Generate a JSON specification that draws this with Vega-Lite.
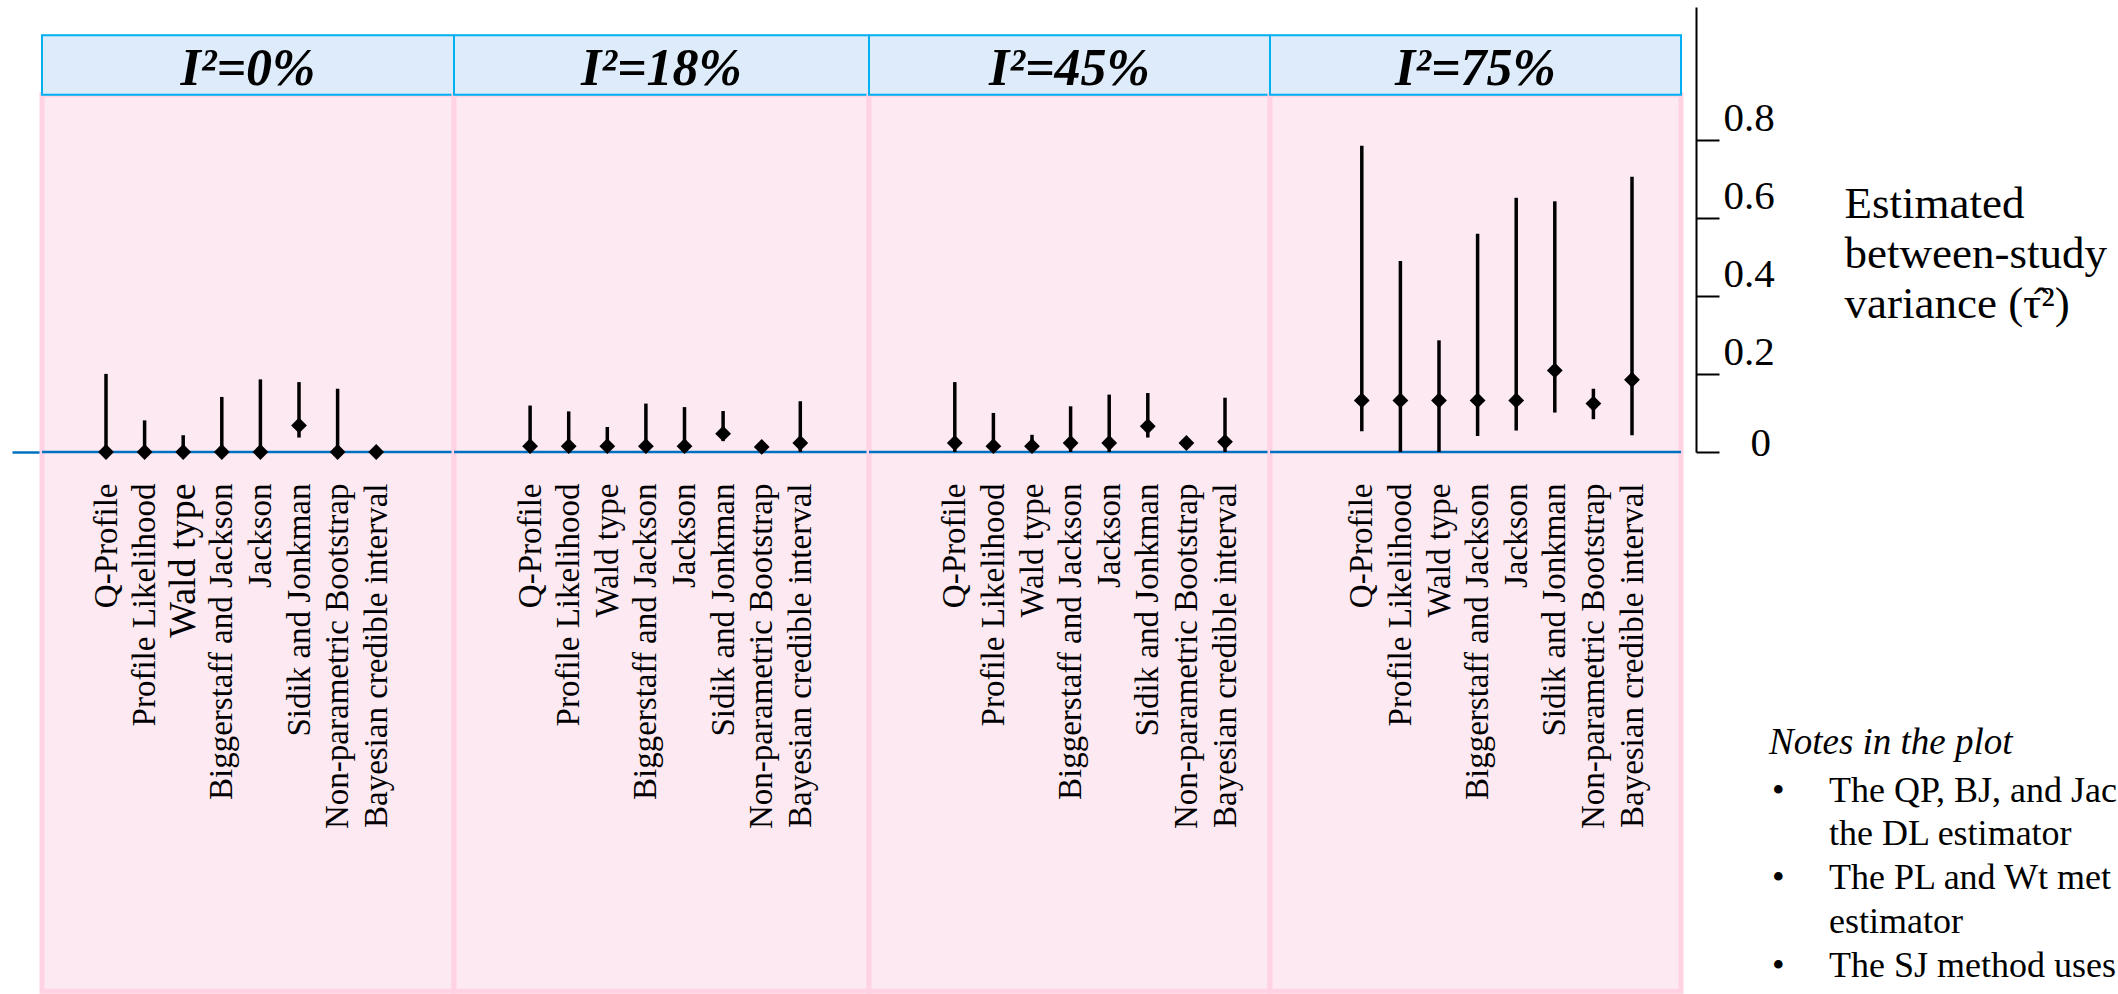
{
  "$schema": "https://vega.github.io/schema/vega-lite/v6.json",
  "usermeta": {"embedOptions": {"actions": false}},
  "padding": {"left": 10, "top": 7, "right": 0, "bottom": 0},
  "background": "white",
  "spacing": 0,
  "bounds": "flush",
  "config": {"view": {"stroke": null}, "axis": {"grid": false}},
  "data": {"values": [
    {"panel": "I²=0%", "method": "Q-Profile", "est": 0, "lo": 0, "hi": 0.2},
    {"panel": "I²=0%", "method": "Profile Likelihood", "est": 0, "lo": 0, "hi": 0.081},
    {"panel": "I²=0%", "method": "Wald type", "est": 0, "lo": 0, "hi": 0.043},
    {"panel": "I²=0%", "method": "Biggerstaff and Jackson", "est": 0, "lo": 0, "hi": 0.141},
    {"panel": "I²=0%", "method": "Jackson", "est": 0, "lo": 0, "hi": 0.186},
    {"panel": "I²=0%", "method": "Sidik and Jonkman", "est": 0.068, "lo": 0.037, "hi": 0.179},
    {"panel": "I²=0%", "method": "Non-parametric Bootstrap", "est": 0, "lo": 0, "hi": 0.162},
    {"panel": "I²=0%", "method": "Bayesian credible interval", "est": 0, "lo": 0, "hi": 0},
    {"panel": "I²=18%", "method": "Q-Profile", "est": 0.015, "lo": 0, "hi": 0.119},
    {"panel": "I²=18%", "method": "Profile Likelihood", "est": 0.015, "lo": 0, "hi": 0.104},
    {"panel": "I²=18%", "method": "Wald type", "est": 0.015, "lo": 0, "hi": 0.064},
    {"panel": "I²=18%", "method": "Biggerstaff and Jackson", "est": 0.015, "lo": 0, "hi": 0.124},
    {"panel": "I²=18%", "method": "Jackson", "est": 0.015, "lo": 0, "hi": 0.115},
    {"panel": "I²=18%", "method": "Sidik and Jonkman", "est": 0.047, "lo": 0.028, "hi": 0.105},
    {"panel": "I²=18%", "method": "Non-parametric Bootstrap", "est": 0.013, "lo": 0.013, "hi": 0.013},
    {"panel": "I²=18%", "method": "Bayesian credible interval", "est": 0.023, "lo": 0, "hi": 0.13},
    {"panel": "I²=45%", "method": "Q-Profile", "est": 0.023, "lo": 0, "hi": 0.179},
    {"panel": "I²=45%", "method": "Profile Likelihood", "est": 0.015, "lo": 0, "hi": 0.1},
    {"panel": "I²=45%", "method": "Wald type", "est": 0.015, "lo": 0, "hi": 0.044},
    {"panel": "I²=45%", "method": "Biggerstaff and Jackson", "est": 0.023, "lo": 0, "hi": 0.117},
    {"panel": "I²=45%", "method": "Jackson", "est": 0.023, "lo": 0, "hi": 0.147},
    {"panel": "I²=45%", "method": "Sidik and Jonkman", "est": 0.066, "lo": 0.037, "hi": 0.151},
    {"panel": "I²=45%", "method": "Non-parametric Bootstrap", "est": 0.023, "lo": 0.023, "hi": 0.023},
    {"panel": "I²=45%", "method": "Bayesian credible interval", "est": 0.026, "lo": 0, "hi": 0.139},
    {"panel": "I²=75%", "method": "Q-Profile", "est": 0.132, "lo": 0.053, "hi": 0.784},
    {"panel": "I²=75%", "method": "Profile Likelihood", "est": 0.132, "lo": 0, "hi": 0.489},
    {"panel": "I²=75%", "method": "Wald type", "est": 0.132, "lo": 0, "hi": 0.286},
    {"panel": "I²=75%", "method": "Biggerstaff and Jackson", "est": 0.132, "lo": 0.041, "hi": 0.559},
    {"panel": "I²=75%", "method": "Jackson", "est": 0.132, "lo": 0.055, "hi": 0.651},
    {"panel": "I²=75%", "method": "Sidik and Jonkman", "est": 0.209, "lo": 0.101, "hi": 0.642},
    {"panel": "I²=75%", "method": "Non-parametric Bootstrap", "est": 0.124, "lo": 0.084, "hi": 0.162},
    {"panel": "I²=75%", "method": "Bayesian credible interval", "est": 0.185, "lo": 0.043, "hi": 0.705}
  ]},
  "hconcat": [
    {
      "width": 412, "height": 445,
      "transform": [{"filter": "datum.panel === 'I²=0%'"}],
      "layer": [
        {"transform": [{"filter": "datum.method === 'Q-Profile'"}],
         "mark": {"type": "rect", "fill": "#FDE9F2", "stroke": "#FFD3E4", "strokeWidth": 5},
         "encoding": {"y": {"datum": 0.915, "type": "quantitative", "scale": {"domain": [0, 1.1396], "nice": false, "zero": false},
           "axis": {"orient": "left", "values": [0], "domain": false, "labels": false, "grid": false, "ticks": true, "tickSize": 30, "tickColor": "#0070C0", "tickWidth": 2.5, "title": null}},
           "y2": {"datum": -1.381}}},
        {"transform": [{"filter": "datum.method === 'Q-Profile'"}],
         "mark": {"type": "rect", "fill": "#DEEBFA", "stroke": "#00B0F0", "strokeWidth": 2},
         "encoding": {"y": {"datum": 1.0671, "type": "quantitative"}, "y2": {"datum": 0.915}}},
        {"transform": [{"filter": "datum.method === 'Q-Profile'"}],
         "mark": {"type": "text", "font": "Liberation Serif", "fontSize": 52, "fontStyle": "italic", "fontWeight": "bold", "baseline": "alphabetic", "align": "center", "color": "black"},
         "encoding": {"y": {"datum": 0.94, "type": "quantitative"}, "text": {"field": "panel"}}},
        {"transform": [{"filter": "datum.method === 'Q-Profile'"}],
         "mark": {"type": "rule", "color": "#0070C0", "strokeWidth": 2.5},
         "encoding": {"y": {"datum": 0, "type": "quantitative"}}},
        {"mark": {"type": "rule", "color": "black", "strokeWidth": 3.5},
         "encoding": {
           "x": {"field": "method", "type": "nominal", "sort": null,
             "scale": {"type": "point", "domain": ["Q-Profile", "Profile Likelihood", "Wald type", "Biggerstaff and Jackson", "Jackson", "Sidik and Jonkman", "Non-parametric Bootstrap", "Bayesian credible interval"], "padding": 0, "range": [64, 334.2]},
             "axis": {"orient": "bottom", "title": null, "domain": false, "ticks": false, "tickSize": 0, "labelAngle": 270, "labelAlign": "right", "labelBaseline": "middle", "labelPadding": 31, "labelFont": "Liberation Serif", "labelFontSize": {"condition": {"test": "datum.value === 'Wald type'", "value": 38}, "value": 33}, "labelColor": "black", "labelLimit": 0, "labelOverlap": false, "labelBound": false, "labelFlush": false, "zindex": 1}},
           "y": {"field": "lo", "type": "quantitative"},
           "y2": {"field": "hi"}}},
        {"mark": {"type": "point", "shape": "diamond", "filled": true, "color": "black", "size": 250, "opacity": 1},
         "encoding": {
           "x": {"field": "method", "type": "nominal", "sort": null},
           "y": {"field": "est", "type": "quantitative"}}}
      ]
    },
    {
      "width": 415, "height": 445,
      "transform": [{"filter": "datum.panel === 'I²=18%'"}],
      "layer": [
        {"transform": [{"filter": "datum.method === 'Q-Profile'"}],
         "mark": {"type": "rect", "fill": "#FDE9F2", "stroke": "#FFD3E4", "strokeWidth": 5},
         "encoding": {"y": {"datum": 0.915, "type": "quantitative", "scale": {"domain": [0, 1.1396], "nice": false, "zero": false}, "axis": null},
           "y2": {"datum": -1.381}}},
        {"transform": [{"filter": "datum.method === 'Q-Profile'"}],
         "mark": {"type": "rect", "fill": "#DEEBFA", "stroke": "#00B0F0", "strokeWidth": 2},
         "encoding": {"y": {"datum": 1.0671, "type": "quantitative", "axis": null}, "y2": {"datum": 0.915}}},
        {"transform": [{"filter": "datum.method === 'Q-Profile'"}],
         "mark": {"type": "text", "font": "Liberation Serif", "fontSize": 52, "fontStyle": "italic", "fontWeight": "bold", "baseline": "alphabetic", "align": "center", "color": "black"},
         "encoding": {"y": {"datum": 0.94, "type": "quantitative", "axis": null}, "text": {"field": "panel"}}},
        {"transform": [{"filter": "datum.method === 'Q-Profile'"}],
         "mark": {"type": "rule", "color": "#0070C0", "strokeWidth": 2.5},
         "encoding": {"y": {"datum": 0, "type": "quantitative", "axis": null}}},
        {"mark": {"type": "rule", "color": "black", "strokeWidth": 3.5},
         "encoding": {
           "x": {"field": "method", "type": "nominal", "sort": null,
             "scale": {"type": "point", "domain": ["Q-Profile", "Profile Likelihood", "Wald type", "Biggerstaff and Jackson", "Jackson", "Sidik and Jonkman", "Non-parametric Bootstrap", "Bayesian credible interval"], "padding": 0, "range": [76.1, 346.3]},
             "axis": {"orient": "bottom", "title": null, "domain": false, "ticks": false, "tickSize": 0, "labelAngle": 270, "labelAlign": "right", "labelBaseline": "middle", "labelPadding": 31, "labelFont": "Liberation Serif", "labelFontSize": 33, "labelColor": "black", "labelLimit": 0, "labelOverlap": false, "labelBound": false, "labelFlush": false, "zindex": 1}},
           "y": {"field": "lo", "type": "quantitative", "axis": null},
           "y2": {"field": "hi"}}},
        {"mark": {"type": "point", "shape": "diamond", "filled": true, "color": "black", "size": 250, "opacity": 1},
         "encoding": {
           "x": {"field": "method", "type": "nominal", "sort": null},
           "y": {"field": "est", "type": "quantitative", "axis": null}}}
      ]
    },
    {
      "width": 401, "height": 445,
      "transform": [{"filter": "datum.panel === 'I²=45%'"}],
      "layer": [
        {"transform": [{"filter": "datum.method === 'Q-Profile'"}],
         "mark": {"type": "rect", "fill": "#FDE9F2", "stroke": "#FFD3E4", "strokeWidth": 5},
         "encoding": {"y": {"datum": 0.915, "type": "quantitative", "scale": {"domain": [0, 1.1396], "nice": false, "zero": false}, "axis": null},
           "y2": {"datum": -1.381}}},
        {"transform": [{"filter": "datum.method === 'Q-Profile'"}],
         "mark": {"type": "rect", "fill": "#DEEBFA", "stroke": "#00B0F0", "strokeWidth": 2},
         "encoding": {"y": {"datum": 1.0671, "type": "quantitative", "axis": null}, "y2": {"datum": 0.915}}},
        {"transform": [{"filter": "datum.method === 'Q-Profile'"}],
         "mark": {"type": "text", "font": "Liberation Serif", "fontSize": 52, "fontStyle": "italic", "fontWeight": "bold", "baseline": "alphabetic", "align": "center", "color": "black"},
         "encoding": {"y": {"datum": 0.94, "type": "quantitative", "axis": null}, "text": {"field": "panel"}}},
        {"transform": [{"filter": "datum.method === 'Q-Profile'"}],
         "mark": {"type": "rule", "color": "#0070C0", "strokeWidth": 2.5},
         "encoding": {"y": {"datum": 0, "type": "quantitative", "axis": null}}},
        {"mark": {"type": "rule", "color": "black", "strokeWidth": 3.5},
         "encoding": {
           "x": {"field": "method", "type": "nominal", "sort": null,
             "scale": {"type": "point", "domain": ["Q-Profile", "Profile Likelihood", "Wald type", "Biggerstaff and Jackson", "Jackson", "Sidik and Jonkman", "Non-parametric Bootstrap", "Bayesian credible interval"], "padding": 0, "range": [85.8, 356]},
             "axis": {"orient": "bottom", "title": null, "domain": false, "ticks": false, "tickSize": 0, "labelAngle": 270, "labelAlign": "right", "labelBaseline": "middle", "labelPadding": 31, "labelFont": "Liberation Serif", "labelFontSize": 33, "labelColor": "black", "labelLimit": 0, "labelOverlap": false, "labelBound": false, "labelFlush": false, "zindex": 1}},
           "y": {"field": "lo", "type": "quantitative", "axis": null},
           "y2": {"field": "hi"}}},
        {"mark": {"type": "point", "shape": "diamond", "filled": true, "color": "black", "size": 250, "opacity": 1},
         "encoding": {
           "x": {"field": "method", "type": "nominal", "sort": null},
           "y": {"field": "est", "type": "quantitative", "axis": null}}}
      ]
    },
    {
      "width": 411, "height": 445,
      "transform": [{"filter": "datum.panel === 'I²=75%'"}],
      "layer": [
        {"transform": [{"filter": "datum.method === 'Q-Profile'"}],
         "mark": {"type": "rect", "fill": "#FDE9F2", "stroke": "#FFD3E4", "strokeWidth": 5},
         "encoding": {"y": {"datum": 0.915, "type": "quantitative", "scale": {"domain": [0, 1.1396], "nice": false, "zero": false},
           "axis": {"orient": "right", "offset": 15, "values": [0, 0.2, 0.4, 0.6, 0.8], "domain": true, "domainColor": "black", "domainWidth": 2, "ticks": true, "tickColor": "black", "tickWidth": 2, "tickSize": 23, "grid": false,
             "labelExpr": "datum.value === 0 ? '0' : format(datum.value, '.1f')", "labelFont": "Liberation Serif", "labelFontSize": 41, "labelColor": "black", "labelAlign": "left", "labelBaseline": "alphabetic",
             "labelPadding": {"condition": {"test": "datum.value === 0", "value": 31}, "value": 4},
             "labelOffset": {"condition": {"test": "datum.value === 0", "value": 3}, "value": -9}, "labelBound": false, "labelFlush": false, "labelOverlap": false,
             "title": ["Estimated", "between-study", "variance (τ̂²)"], "titleFont": "Liberation Serif", "titleFontSize": 45, "titleFontWeight": "normal", "titleColor": "black", "titleAngle": 0, "titleAlign": "left", "titleBaseline": "alphabetic", "titleLineHeight": 50, "titleX": 148, "titleY": 210, "zindex": 1}},
           "y2": {"datum": -1.381}}},
        {"transform": [{"filter": "datum.method === 'Q-Profile'"}],
         "mark": {"type": "rect", "fill": "#DEEBFA", "stroke": "#00B0F0", "strokeWidth": 2},
         "encoding": {"y": {"datum": 1.0671, "type": "quantitative"}, "y2": {"datum": 0.915}}},
        {"transform": [{"filter": "datum.method === 'Q-Profile'"}],
         "mark": {"type": "text", "font": "Liberation Serif", "fontSize": 52, "fontStyle": "italic", "fontWeight": "bold", "baseline": "alphabetic", "align": "center", "color": "black"},
         "encoding": {"y": {"datum": 0.94, "type": "quantitative"}, "text": {"field": "panel"}}},
        {"transform": [{"filter": "datum.method === 'Q-Profile'"}],
         "mark": {"type": "rule", "color": "#0070C0", "strokeWidth": 2.5},
         "encoding": {"y": {"datum": 0, "type": "quantitative"}}},
        {"mark": {"type": "rule", "color": "black", "strokeWidth": 3.5},
         "encoding": {
           "x": {"field": "method", "type": "nominal", "sort": null,
             "scale": {"type": "point", "domain": ["Q-Profile", "Profile Likelihood", "Wald type", "Biggerstaff and Jackson", "Jackson", "Sidik and Jonkman", "Non-parametric Bootstrap", "Bayesian credible interval"], "padding": 0, "range": [91.8, 362]},
             "axis": {"orient": "bottom", "title": null, "domain": false, "ticks": false, "tickSize": 0, "labelAngle": 270, "labelAlign": "right", "labelBaseline": "middle", "labelPadding": 31, "labelFont": "Liberation Serif", "labelFontSize": 33, "labelColor": "black", "labelLimit": 0, "labelOverlap": false, "labelBound": false, "labelFlush": false, "zindex": 1}},
           "y": {"field": "lo", "type": "quantitative"},
           "y2": {"field": "hi"}}},
        {"mark": {"type": "point", "shape": "diamond", "filled": true, "color": "black", "size": 250, "opacity": 1},
         "encoding": {
           "x": {"field": "method", "type": "nominal", "sort": null},
           "y": {"field": "est", "type": "quantitative"}}}
      ]
    },
    {
      "width": 176, "height": 445,
      "transform": [{"filter": "datum.panel === 'I²=75%' && datum.method === 'Q-Profile'"}],
      "layer": [
        {"mark": {"type": "text", "text": "Notes in the plot", "font": "Liberation Serif", "fontSize": 37, "fontStyle": "italic", "align": "left", "baseline": "alphabetic", "color": "black"},
         "encoding": {"y": {"datum": -0.7745, "type": "quantitative", "scale": {"domain": [0, 1.1396], "nice": false, "zero": false}, "axis": null}}},
        {"mark": {"type": "text", "text": "•", "font": "Liberation Serif", "fontSize": 36, "align": "left", "baseline": "alphabetic", "color": "black", "dx": 3},
         "encoding": {"y": {"datum": -0.8955, "type": "quantitative", "axis": null}}},
        {"mark": {"type": "text", "text": "•", "font": "Liberation Serif", "fontSize": 36, "align": "left", "baseline": "alphabetic", "color": "black", "dx": 3},
         "encoding": {"y": {"datum": -1.1196, "type": "quantitative", "axis": null}}},
        {"mark": {"type": "text", "text": "•", "font": "Liberation Serif", "fontSize": 36, "align": "left", "baseline": "alphabetic", "color": "black", "dx": 3},
         "encoding": {"y": {"datum": -1.3437, "type": "quantitative", "axis": null}}},
        {"mark": {"type": "text", "text": ["The QP, BJ, and Jackson methods use", "the DL estimator", "The PL and Wt methods use the ML", "estimator", "The SJ method uses the SJ estimator"], "font": "Liberation Serif", "fontSize": 36, "lineHeight": 43.75, "align": "left", "baseline": "alphabetic", "color": "black", "dx": 60, "limit": 292, "ellipsis": "\u200b"},
         "encoding": {"y": {"datum": -0.8955, "type": "quantitative", "axis": null}}}
      ]
    }
  ]
}
